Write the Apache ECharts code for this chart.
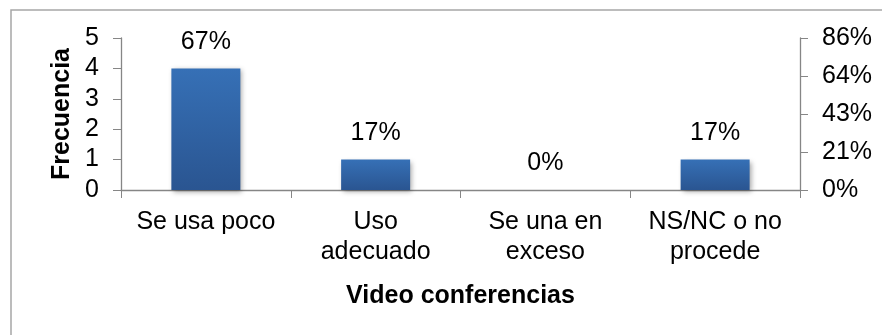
<!DOCTYPE html>
<html><head><meta charset="utf-8">
<script src="https://cdn.jsdelivr.net/npm/echarts@6/dist/echarts.min.js"></script>
<style>html,body{margin:0;padding:0;background:#fff}#c{width:882px;height:335px}</style>
</head><body><div id="c"></div>
<script>
const categories = ['Se usa poco', 'Uso\nadecuado', 'Se una en\nexceso', 'NS/NC o no\nprocede'];
const frequencies = [4, 1, 0, 1];
const percentLabels = ['67%', '17%', '0%', '17%'];
const rightTickLabels = ['0%', '21%', '43%', '64%', '86%'];
const leftTicks = [0, 5];

const chart = echarts.init(document.getElementById('c'), null, {renderer: 'canvas'});
const font = 'Liberation Sans, Arial, sans-serif';
const axisColor = '#868686';
const fs = 25;
chart.setOption({
  animation: false,
  graphic: [{
    type: 'rect', shape: {x: 11, y: 10, width: 900, height: 400},
    style: {fill: 'none', stroke: '#a6a6a6', lineWidth: 1.5}, silent: true
  }],
  grid: {left: 121, right: 82, top: 38, bottom: 145},
  xAxis: {
    type: 'category', data: categories,
    name: 'Video conferencias', nameLocation: 'middle', nameGap: 94,
    nameTextStyle: {fontFamily: font, fontSize: fs, fontWeight: 'bold', color: '#000'},
    axisLine: {lineStyle: {color: axisColor, width: 1.3}},
    axisTick: {show: true, length: 8, lineStyle: {color: axisColor}},
    axisLabel: {fontFamily: font, fontSize: fs, color: '#000', margin: 17, lineHeight: 30, interval: 0}
  },
  yAxis: [{
    type: 'value', min: leftTicks[0], max: leftTicks[1], interval: 1,
    name: 'Frecuencia', nameLocation: 'middle', nameGap: 45, nameRotate: 90,
    nameTextStyle: {fontFamily: font, fontSize: fs, fontWeight: 'bold', color: '#000'},
    axisLine: {show: true, lineStyle: {color: axisColor, width: 1.3}},
    axisTick: {show: true, length: 8, lineStyle: {color: axisColor}},
    splitLine: {show: false},
    axisLabel: {fontFamily: font, fontSize: fs, color: '#000', margin: 22}
  }, {
    type: 'value', min: 0, max: 4, interval: 1, position: 'right',
    axisLine: {show: true, lineStyle: {color: axisColor, width: 1.3}},
    axisTick: {show: true, length: 8, lineStyle: {color: axisColor}},
    splitLine: {show: false},
    axisLabel: {fontFamily: font, fontSize: fs, color: '#000', margin: 22,
      formatter: (v) => rightTickLabels[Math.round(v)]}
  }],
  series: [{
    type: 'bar', data: frequencies, barWidth: 69, yAxisIndex: 0,
    itemStyle: {
      color: new echarts.graphic.LinearGradient(0, 0, 0, 1, [
        {offset: 0, color: '#3670b6'}, {offset: 1, color: '#2a5591'}]),
      shadowColor: 'rgba(0,0,0,0.35)', shadowBlur: 5, shadowOffsetX: 2, shadowOffsetY: 2
    },
    label: {
      show: true, position: 'top', distance: 14,
      fontFamily: font, fontSize: fs, color: '#000',
      formatter: (p) => percentLabels[p.dataIndex]
    }
  }]
});
</script></body></html>
